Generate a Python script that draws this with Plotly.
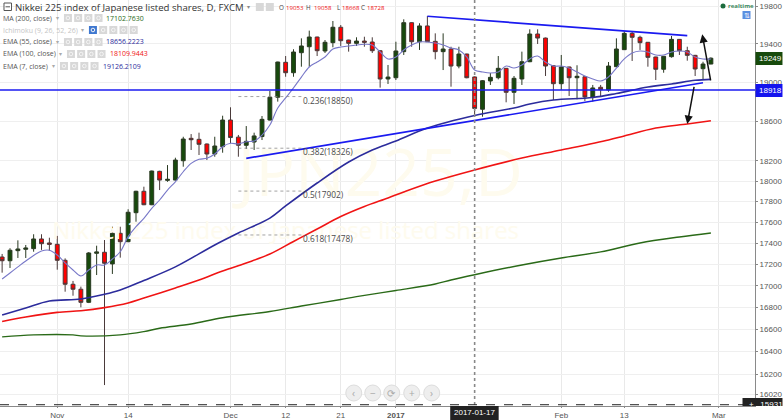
import math
import plotly.graph_objects as go

# bar number 0 = 1 Nov 2016
first_bar = -7
opens = [17269,17234,17329,17342,17348,17440,17402,17389,17238,17014,16968,16847,17304,17314,17204,17494,17414,17692,17900,17769,
         18096,18007,18010,18201,18425,18415,18368,18268,18341,18610,18437,18355,18388,18443,18610,18843,19206,19097,19307,19370,
         19473,19325,19413,19577,19441,19406,19430,19420,19328,19032,19045,19318,19626,19423,19591,19427,19318,19346,19167,19293,
         19053,18720,19011,19045,19143,18894,19032,19212,19505,19462,19170,18983,19157,19045,19055,18846,18946,18918,19160,19339,
         19512,19470,19417,19262,19133,19265,19448,19328,19279,19139,19188]
highs = [17298,17352,17427,17383,17485,17485,17452,17469,17256,17045,16992,17316,17376,17430,17557,17557,17725,17905,17945,18103,
         18102,18158,18231,18441,18468,18482,18373,18441,18654,18740,18459,18549,18482,18651,18908,19212,19272,19343,19459,19541,
         19476,19441,19644,19601,19444,19470,19476,19470,19332,19178,19423,19662,19630,19620,19698,19512,19512,19370,19370,19296,
         19058,19021,19094,19272,19146,19063,19318,19555,19555,19467,19175,19283,19160,19175,19058,18970,18970,19209,19459,19534,
         19534,19487,19420,19265,19272,19484,19452,19370,19284,19212,19258]
lows = [17122,17166,17260,17260,17319,17336,17326,17150,16945,16908,16801,16840,17100,16103,17110,17263,17410,17605,17765,17765,
        17912,17993,18005,18142,18308,18258,18208,18241,18281,18375,18241,18221,18308,18408,18605,18798,19055,19055,19160,19160,
        19272,19304,19364,19378,19318,19378,19370,19304,18942,18980,19021,19283,19370,19336,19420,19237,19125,18952,19143,19039,
        18668,18644,18970,19028,18791,18774,18970,19208,19399,19063,18815,18918,18856,18822,18805,18798,18856,18900,19155,19336,
        19220,19336,19160,19021,19097,19255,19283,19223,19063,19021,19186]
closes = [17234,17333,17345,17354,17440,17395,17389,17238,17014,16968,16847,17307,17317,17210,17494,17414,17696,17900,17769,18099,
          18010,18017,18208,18418,18411,18365,18268,18348,18610,18433,18355,18395,18449,18617,18843,19209,19097,19314,19378,19473,
          19328,19417,19577,19434,19406,19430,19417,19328,19032,19052,19325,19626,19423,19591,19423,19318,19346,19167,19293,19045,
          18728,19014,19049,19143,18894,19039,19212,19505,19462,19167,18983,19157,19045,19060,18846,18939,18921,19167,19346,19512,
          19470,19413,19258,19133,19269,19448,19328,19279,19136,19188,19249]

ema7 = [17063,17119,17176,17232,17284,17326,17333,17288,17213,17147,17091,17147,17194,17194,17250,17319,17462,17557,17638,17734,
        17815,17912,17993,18092,18175,18215,18225,18268,18341,18375,18368,18391,18398,18458,18559,18733,18836,18939,19052,19157,
        19209,19262,19346,19367,19378,19388,19396,19388,19314,19241,19262,19336,19388,19420,19420,19409,19388,19357,19336,19262,
        19126,19105,19094,19105,19167,19146,19178,19241,19272,19209,19167,19167,19146,19105,19063,19032,19011,19052,19146,19241,
        19304,19325,19314,19283,19283,19314,19325,19314,19262,19241,19241]

ema55_bars = [-7,-4,-1,3,6,8,11,15,20,23,27,29,33,37,40,43,47,53,58,60,63,68,71,75,78,81,83]
ema55 = [16730,16795,16859,16877,16921,16961,17049,17176,17383,17497,17640,17757,17981,18188,18308,18398,18529,18656,18733,18774,18815,18841,18882,18949,18980,19018,19028]

ema100_bars = [-7,-4,0,3,6,9,11,15,18,21,24,27,30,33,36,39,42,44,48,53,59,64,70,72,76,80,83]
ema100 = [16671,16712,16755,16770,16798,16841,16886,16980,17054,17138,17213,17297,17416,17535,17655,17752,17835,17893,18000,18110,18228,18308,18408,18449,18529,18570,18603]

ma200_bars = [-7,-3,2,3,8,11,13,17,21,27,31,36,38,43,48,50,53,59,64,69,74,79,83]
ma200 = [16532,16550,16550,16541,16550,16580,16610,16649,16706,16763,16813,16873,16899,16956,17017,17054,17103,17194,17260,17317,17402,17459,17497]

support_bars, support_vals = [24, 82], [18225, 18993]
resist_bars, resist_vals = [47, 80], [19695, 19487]
level_18918 = 18918
last_price = 19249
cursor_bar, cursor_price = 53, 15931

fib_labels = ["0.236(18850)", "0.382(18326)", "0.5(17902)", "0.618(17478)"]
fib_vals = [18850, 18326, 17902, 17478]
fib_bars = [23, 31]

tick_bars = [0, 9, 22, 29, 36, 43, 64, 72, 84]
tick_text = ["Nov", "14", "Dec", "12", "21", "<b>2017</b>", "Feb", "13", "Mar"]
y_ticks = [19800, 19400, 19000, 18600, 18200, 18000, 17800, 17600, 17400, 17200, 17000, 16800, 16600, 16400, 16200, 16020]

up_arrow = ((83, 19003), (81.9, 19502))
down_arrow = ((80.9, 18965), (80, 18570))

W, H = 783, 420
PW, PH = 755.5, 406
px = lambda x: x / PW
py = lambda y: 1 - y / PH
BLUE = "#1a1af0"
GREY = "#5a5a5a"
FONT = "Open Sans"

bars = list(range(first_bar, first_bar + len(opens)))
fig = go.Figure()

# watermark, behind everything
fig.add_trace(go.Scatter(x=[41], y=[18020], mode="text", text=["JPN225,D"], hoverinfo="skip",
                         textfont=dict(size=66, color="#fefbee", family=FONT)))
fig.add_trace(go.Scatter(x=[29], y=[17497], mode="text", text=["Nikkei 225 index of Japanese listed shares"], hoverinfo="skip",
                         textfont=dict(size=24, color="#fefbee", family=FONT)))

fig.add_trace(go.Candlestick(x=bars, open=opens, high=highs, low=lows, close=closes, whiskerwidth=0,
                             increasing=dict(line=dict(color="#2a3a22", width=1), fillcolor="#174a0c"),
                             decreasing=dict(line=dict(color="#4a3a3a", width=1), fillcolor="#ff0000"),
                             hoverinfo="skip"))


def line(x, y, color, width, dash="solid", shape="linear"):
    fig.add_trace(go.Scatter(x=x, y=y, mode="lines", hoverinfo="skip",
                             line=dict(color=color, width=width, dash=dash, shape=shape)))


line(bars, ema7, "#7878c8", 1.1, shape="spline")
line(ma200_bars, ma200, "#2a6a18", 1.4, shape="spline")
line(ema100_bars, ema100, "#f01414", 1.6, shape="spline")
line(ema55_bars, ema55, "#2c2c9c", 1.6, shape="spline")
line(support_bars, support_vals, BLUE, 1.7)
line(resist_bars, resist_vals, BLUE, 1.7)
line([-7.27, 88.6], [level_18918] * 2, BLUE, 1.7)
for v in fib_vals:
    line(fib_bars, [v, v], "#8a8a8a", 0.8, "dot")
line([cursor_bar, cursor_bar], [19870, 15921], "#888888", 1.6, "dot")
line([-7.27, 88.6], [cursor_price] * 2, "#222222", 1.0, "dash")

ann = []


def text(x, y, s, color=GREY, size=8.5, anchor="left", family=FONT, **kw):
    ann.append(dict(x=px(x), y=py(y), xref="paper", yref="paper", text=s, showarrow=False, xanchor=anchor,
                    yanchor="middle", font=dict(size=size, color=color, family=family), borderpad=0, **kw))


for s, v in zip(fib_labels, fib_vals):
    ann.append(dict(x=31, y=math.log10(v), xref="x", yref="y", text=s, showarrow=False, xanchor="left", yanchor="top",
                    yshift=4, font=dict(size=8.3, color="#4a4a4a", family=FONT)))

for (tail, head) in (up_arrow, down_arrow):
    ann.append(dict(x=head[0], y=math.log10(head[1]), ax=tail[0], ay=math.log10(tail[1]), xref="x", yref="y", axref="x",
                    ayref="y", showarrow=True, arrowhead=2, arrowsize=1.1, arrowwidth=1.5, arrowcolor="#111111", text=""))

# header line
text(14, 7, "Nikkei 225 index of Japanese listed shares, D, FXCM", "#333333", 9.6)
ohlc = [(279, "O", 285.5, "19053"), (306.5, "H", 313.5, "19058"), (337, "L", 341.5, "18668"), (361, "C", 366.5, "18728")]
for x0, lab, x1, val in ohlc:
    text(x0 - 1, 7, lab, "#444444", 6.3)
    text(x1, 7, val, "#f01010", 6.1)

rows = [(18, "MA (200, close)", "17102.7630", "#2a6a18", 64, 105, "#555555"),
        (30, "Ichimoku (9, 26, 52, 26)", "", "#000000", 89, 0, "#c4c4c4"),
        (42, "EMA (55, close)", "18656.2223", "#2c2c9c", 64, 105, "#555555"),
        (54, "EMA (100, close)", "18109.9443", "#f01414", 67, 109, "#555555"),
        (66, "EMA (7, close)", "19126.2109", "#2c2c9c", 60, 102, "#555555")]
shapes = []
for y, name, val, col, icon_x, val_x, name_col in rows:
    text(2.2, y, name, name_col, 7)
    text(icon_x - 9, y, "▾", "#aaaaaa", 6)
    if val:
        text(val_x, y, val, col, 7)
    for k in range(4 if val else 5):
        fill = "#3f78d0" if (not val and k == 0) else "#d8d8d8"
        x0 = icon_x + k * 10.2
        shapes.append(dict(type="rect", xref="paper", yref="paper", x0=px(x0), x1=px(x0 + 8), y0=py(y + 4), y1=py(y - 4),
                           fillcolor=fill, line=dict(width=0), layer="above"))
        shapes.append(dict(type="circle", xref="paper", yref="paper", x0=px(x0 + 2.2), x1=px(x0 + 5.8), y0=py(y + 1.8), y1=py(y - 1.8),
                           fillcolor="rgba(0,0,0,0)", line=dict(width=1, color="#f4f4f4"), layer="above"))

# collapse box + header icons
shapes.append(dict(type="rect", xref="paper", yref="paper", x0=px(4), x1=px(11.5), y0=py(10.5), y1=py(3),
                   fillcolor="white", line=dict(width=1, color="#555555"), layer="above"))
shapes.append(dict(type="line", xref="paper", yref="paper", x0=px(5.5), x1=px(10), y0=py(6.8), y1=py(6.8),
                   line=dict(width=1, color="#555555"), layer="above"))
for x0 in (256, 266):
    shapes.append(dict(type="rect", xref="paper", yref="paper", x0=px(x0), x1=px(x0 + 8), y0=py(11), y1=py(3),
                       fillcolor="#d8d8d8", line=dict(width=0), layer="above"))
text(246, 7, "▾", "#888888", 6)

# realtime marker
shapes.append(dict(type="circle", xref="paper", yref="paper", x0=px(721), x1=px(726), y0=py(8.5), y1=py(3.5),
                   fillcolor="#1c6b3c", line=dict(width=0), layer="above"))
text(727, 6, "<b>realtime</b>", "#3f8a5f", 6)
shapes.append(dict(type="rect", xref="paper", yref="paper", x0=px(743), x1=px(751), y0=py(19), y1=py(11),
                   fillcolor="#5b8fe0", line=dict(width=0), layer="above"))
text(747, 15, "⇅", "white", 7, "center")

# bottom controls
for cx, glyph in zip((354, 373, 392, 412, 432), ("‹", "−", "⟳", "+", "›")):
    shapes.append(dict(type="circle", xref="paper", yref="paper", x0=px(cx - 8), x1=px(cx + 8), y0=py(401), y1=py(385),
                       fillcolor="#eeeeee", line=dict(width=1, color="#dddddd"), layer="above"))
    text(cx, 393, glyph, "#a8a8a8", 10, "center")


# axis flags
def flag(y0, y1, x0, x1, fill, s, tx, ty, col="white", size=8):
    shapes.append(dict(type="rect", xref="paper", yref="paper", x0=px(x0), x1=px(x1), y0=py(y1), y1=py(y0),
                       fillcolor=fill, line=dict(width=0), layer="above"))
    text(tx, ty, s, col, size, "left", "Liberation Sans")


flag(52, 65, 756, 783, "#174a0c", "19249", 759, 58.5)
flag(84, 97, 756, 783, "#1414ee", "18918", 759, 90.5)
flag(398, 406, 743, 783, "#222222", "+   15931", 748, 404)
flag(406, 420, 450.5, 499, "#222222", "2017-01-17", 453, 413, "white", 8)

fig.update_layout(
    width=W, height=H, showlegend=False, paper_bgcolor="white", plot_bgcolor="white",
    margin=dict(l=0, r=W - PW, t=0, b=H - PH, pad=0, autoexpand=False),
    annotations=ann, shapes=shapes,
    xaxis=dict(range=[-7.27, 88.6], tickmode="array", tickvals=tick_bars, ticktext=tick_text, showgrid=True, gridcolor="#e9e9e9",
               gridwidth=1, zeroline=False, rangeslider=dict(visible=False), ticks="outside", ticklen=1, tickcolor="#888888",
               showline=True, linecolor="#8a8a8a", linewidth=1, tickfont=dict(family="Liberation Sans", size=8, color="#555555")),
    yaxis=dict(type="log", side="right", range=[4.20194, 4.29821], tickmode="array", tickvals=y_ticks,
               ticktext=[str(v) for v in y_ticks], showgrid=True, gridcolor="#efefef", gridwidth=1, zeroline=False, ticks="outside",
               ticklen=2, tickcolor="#888888", showline=True, linecolor="#8a8a8a", linewidth=1,
               tickfont=dict(family="Liberation Sans", size=8, color="#555555")),
)

fig.write_html("out.html", config=dict(displayModeBar=False),
               post_script="document.body.style.margin='0';document.body.style.overflow='hidden';")
